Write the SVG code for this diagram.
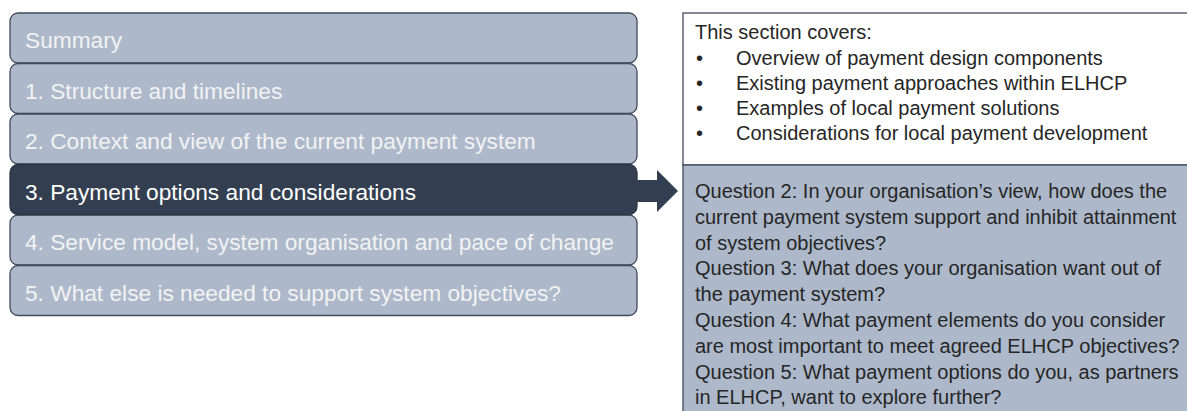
<svg xmlns="http://www.w3.org/2000/svg" width="1187" height="411" viewBox="0 0 1187 411">
  <style>
    .box { fill: #ADB9CA; stroke: #3F4A5A; stroke-width: 1.3; }
    .dark { fill: #333F50; stroke: #2A3442; stroke-width: 1.3; }
    .lt { font-family: "Liberation Sans", Arial, sans-serif; font-size: 22.7px; fill: #F2F2F2; }
    .rt { font-family: "Liberation Sans", Arial, sans-serif; font-size: 20px; fill: #262626; }
    .panelTop { fill: #FFFFFF; stroke: #3F4A5A; stroke-width: 1.3; }
    .panelBot { fill: #ADB9CA; stroke: #3F4A5A; stroke-width: 1.3; }
  </style>
  <rect width="1187" height="411" fill="#FFFFFF"/>

  <g id="node-summary">
    <rect class="box" x="10" y="13" width="627" height="50" rx="8"/>
    <text class="lt" x="25" y="48">Summary</text>
  </g>
  <g id="node-1">
    <rect class="box" x="10" y="63.5" width="627" height="50" rx="8"/>
    <text class="lt" x="25" y="98.5">1. Structure and timelines</text>
  </g>
  <g id="node-2">
    <rect class="box" x="10" y="114" width="627" height="50" rx="8"/>
    <text class="lt" x="25" y="149">2. Context and view of the current payment system</text>
  </g>
  <g id="node-4">
    <rect class="box" x="10" y="215" width="627" height="50" rx="8"/>
    <text class="lt" x="25" y="250">4. Service model, system organisation and pace of change</text>
  </g>
  <g id="node-5">
    <rect class="box" x="10" y="265.5" width="627" height="50" rx="8"/>
    <text class="lt" x="25" y="300.5">5. What else is needed to support system objectives?</text>
  </g>
  <g id="node-3">
    <rect class="dark" x="10" y="164.5" width="627" height="50" rx="8"/>
    <text class="lt" x="25" y="199.5" style="fill:#FFFFFF">3. Payment options and considerations</text>
  </g>

  <g id="connectors">
    <polygon points="630,180 657,180 657,170 678,191 657,212 657,202 630,202" fill="#333F50"/>
  </g>

  <g id="node-covers">
    <rect class="panelTop" x="683" y="13" width="520" height="152"/>
    <text class="rt" x="695" y="39">This section covers:</text>
    <g class="rt">
      <text x="696" y="65">•</text>
      <text x="736" y="65">Overview of payment design components</text>
      <text x="696" y="90">•</text>
      <text x="736" y="90">Existing payment approaches within ELHCP</text>
      <text x="696" y="115">•</text>
      <text x="736" y="115">Examples of local payment solutions</text>
      <text x="696" y="140">•</text>
      <text x="736" y="140">Considerations for local payment development</text>
    </g>
  </g>

  <g id="node-questions">
    <rect class="panelBot" x="683" y="165" width="520" height="260"/>
    <g class="rt">
      <text x="695" y="198">Question 2: In your organisation’s view, how does the</text>
      <text x="695" y="223.8">current payment system support and inhibit attainment</text>
      <text x="695" y="249.6">of system objectives?</text>
      <text x="695" y="275.4">Question 3: What does your organisation want out of</text>
      <text x="695" y="301.2">the payment system?</text>
      <text x="695" y="327">Question 4: What payment elements do you consider</text>
      <text x="695" y="352.8">are most important to meet agreed ELHCP objectives?</text>
      <text x="695" y="378.6">Question 5: What payment options do you, as partners</text>
      <text x="695" y="404.4">in ELHCP, want to explore further?</text>
    </g>
  </g>
</svg>
